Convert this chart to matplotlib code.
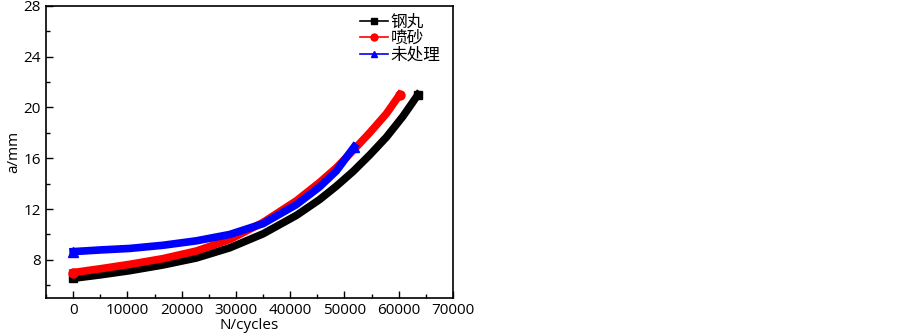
import matplotlib
matplotlib.use('Agg')
import matplotlib.pyplot as plt
from matplotlib import ticker

plt.rcParams['font.family'] = ['Open Sans', 'Noto Sans CJK SC', 'DejaVu Sans']

# values
n_shot = [0, 5000, 10440, 16570, 22720, 28860, 35000, 41140, 45430, 48500, 51570, 54640, 57710, 60780, 63540]
a_shot = [6.55, 6.82, 7.15, 7.6, 8.15, 8.95, 10.05, 11.5, 12.75, 13.8, 14.95, 16.25, 17.65, 19.3, 21.0]

n_sand = [0, 5000, 10440, 16570, 22720, 28860, 35000, 41140, 45430, 48500, 51570, 54640, 57710, 60170]
a_sand = [7.0, 7.3, 7.65, 8.1, 8.7, 9.6, 10.95, 12.65, 14.1, 15.25, 16.6, 18.0, 19.5, 21.0]

n_raw = [0, 5000, 10440, 16570, 22720, 28860, 35000, 41140, 45430, 48500, 51800]
a_raw = [8.65, 8.78, 8.9, 9.15, 9.5, 10.0, 10.85, 12.35, 13.75, 15.0, 16.9]

labels = ['钢丸', '喷砂', '未处理']

fig = plt.figure(figsize=(9.03, 3.36), dpi=100)
ax = fig.add_axes([0.0509, 0.1131, 0.4508, 0.8699])

ax.plot(n_shot, a_shot, color='black', lw=5.5, marker='s', ms=6, markevery=[0, -1],
        solid_joinstyle='round', label=labels[0])
ax.plot(n_sand, a_sand, color='red', lw=5.5, marker='o', ms=6.5, markevery=[0, -1],
        solid_joinstyle='round', label=labels[1])
ax.plot(n_raw, a_raw, color='blue', lw=5.5, marker='^', ms=7.5, markevery=[0, -1],
        solid_joinstyle='round', label=labels[2])

ax.set_xlim(-5000, 70000)
ax.set_ylim(5, 28)
ax.xaxis.set_major_locator(ticker.MultipleLocator(10000))
ax.xaxis.set_minor_locator(ticker.MultipleLocator(5000))
ax.yaxis.set_major_locator(ticker.FixedLocator([8, 12, 16, 20, 24, 28]))
ax.yaxis.set_minor_locator(ticker.FixedLocator([6, 10, 14, 18, 22, 26]))
ax.tick_params(which='both', direction='in', labelsize=11, width=1.0)
ax.tick_params(which='major', length=5)
ax.tick_params(which='minor', length=3)
for s in ax.spines.values():
    s.set_linewidth(1.2)

ax.set_xlabel('N/cycles', fontsize=11, labelpad=0)
ax.set_ylabel('a/mm', fontsize=11, labelpad=2)

leg = ax.legend(loc='upper right', frameon=False, fontsize=12, handlelength=1.7,
                handletextpad=0.15, labelspacing=0.02, borderaxespad=0.0,
                bbox_to_anchor=(0.985, 0.992))
for h in leg.legend_handles:
    h.set_linewidth(1.2)
    h.set_markersize(5)

fig.savefig('out.png', dpi=100)
